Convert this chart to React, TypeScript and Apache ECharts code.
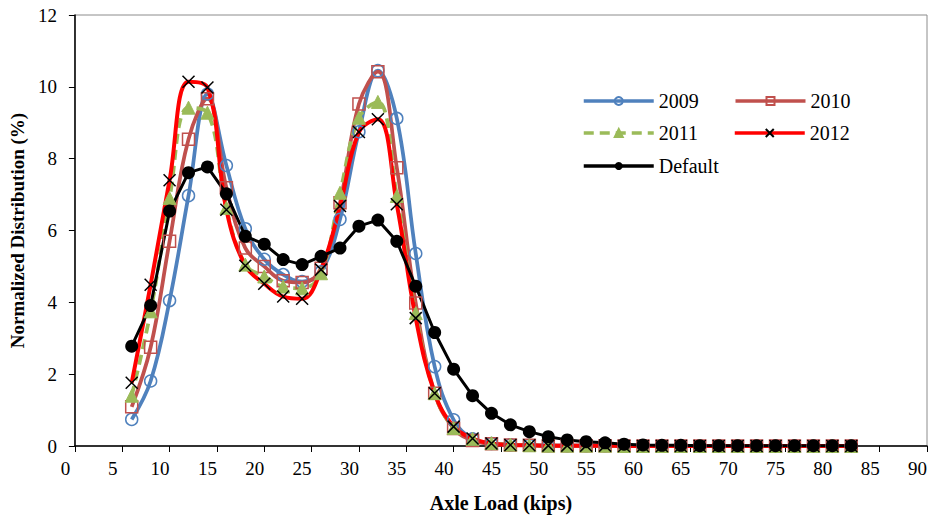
import React, { useEffect, useRef } from "react";
import * as echarts from "echarts";

// Axle load bins (kips)
const loads = [6, 8, 10, 12, 14, 16, 18, 20, 22, 24, 26, 28, 30, 32, 34, 36, 38, 40, 42, 44, 46, 48, 50, 52, 54, 56, 58, 60, 62, 64, 66, 68, 70, 72, 74, 76, 78, 80, 82];

// Normalized distribution (%) per year
const y2009 = [0.74, 1.81, 4.05, 6.97, 9.8, 7.81, 6.05, 5.2, 4.77, 4.58, 4.85, 6.31, 8.75, 10.45, 9.12, 5.36, 2.21, 0.73, 0.2, 0.07, 0.03, 0.02, 0.01, 0.01, 0.01, 0.01, 0, 0, 0, 0, 0, 0, 0, 0, 0, 0, 0, 0, 0];
const y2010 = [1.09, 2.75, 5.7, 8.54, 9.67, 7.19, 5.51, 5.0, 4.6, 4.55, 4.95, 6.77, 9.52, 10.42, 7.75, 3.98, 1.47, 0.49, 0.15, 0.06, 0.03, 0.02, 0.01, 0.01, 0.01, 0.01, 0, 0, 0, 0, 0, 0, 0, 0, 0, 0, 0, 0, 0];
const y2011 = [1.4, 3.75, 6.9, 9.42, 9.28, 6.63, 5.05, 4.72, 4.44, 4.39, 4.81, 7.05, 9.14, 9.58, 6.96, 3.7, 1.47, 0.5, 0.2, 0.08, 0.04, 0.02, 0.01, 0.01, 0.01, 0.01, 0, 0, 0, 0, 0, 0, 0, 0, 0, 0, 0, 0, 0];
const y2012 = [1.76, 4.49, 7.4, 10.14, 9.98, 6.58, 5.02, 4.52, 4.16, 4.1, 4.91, 6.68, 8.74, 9.1, 6.73, 3.56, 1.47, 0.54, 0.21, 0.07, 0.03, 0.02, 0.01, 0.01, 0.01, 0.01, 0, 0, 0, 0, 0, 0, 0, 0, 0, 0, 0, 0, 0];
const yDefault = [2.78, 3.91, 6.54, 7.61, 7.77, 7.02, 5.84, 5.62, 5.19, 5.05, 5.28, 5.51, 6.12, 6.29, 5.7, 4.45, 3.16, 2.14, 1.4, 0.91, 0.59, 0.4, 0.26, 0.17, 0.12, 0.09, 0.05, 0.03, 0.02, 0.02, 0.01, 0.01, 0.01, 0.01, 0.01, 0.01, 0.01, 0.01, 0.01];

const xTicks = { min: 0, max: 90, interval: 5 };
const yTicks = { min: 0, max: 12, interval: 2 };

const FONT = "'Liberation Serif', 'Times New Roman', serif";

const pairs = (ys: number[]) => loads.map((x, i) => [x, ys[i]]);

export default function App() {
  const ref = useRef<HTMLDivElement>(null);

  useEffect(() => {
    document.body.style.margin = "0";
    if (!ref.current) return;
    const chart = echarts.init(ref.current, null, { renderer: "svg" });

    const legendText = { fontFamily: FONT, fontSize: 20, color: "#000" };
    const legendBase = {
      left: 577,
      itemWidth: 70,
      itemHeight: 10,
      itemGap: 35,
      textStyle: legendText,
      lineStyle: { width: 3.5 },
    };

    chart.setOption({
      animation: false,
      backgroundColor: "#fff",
      grid: {
        left: 74,
        right: 6,
        top: 15,
        bottom: 73,
        show: true,
        borderColor: "#8c8c8c",
        borderWidth: 1,
      },
      legend: [
        { ...legendBase, data: ["2009", "2010"], top: 86 },
        { ...legendBase, data: ["2011", "2012"], top: 118 },
        { ...legendBase, data: ["Default"], top: 151 },
      ],
      xAxis: {
        type: "value",
        ...xTicks,
        name: "Axle Load (kips)",
        nameLocation: "middle",
        nameGap: 47,
        nameTextStyle: { fontFamily: FONT, fontSize: 20, fontWeight: "bold", color: "#000" },
        axisLine: { show: true, lineStyle: { color: "#000", width: 1.5 } },
        axisTick: { show: true, inside: false, length: 6, lineStyle: { color: "#000", width: 1 } },
        axisLabel: { fontFamily: FONT, fontSize: 19, color: "#000", margin: 13, padding: [0, 19, 0, 0] },
        splitLine: { show: false },
      },
      yAxis: {
        type: "value",
        ...yTicks,
        name: "Normalized Distribution (%)",
        nameLocation: "middle",
        nameRotate: 90,
        nameGap: 44,
        nameTextStyle: { fontFamily: FONT, fontSize: 19, fontWeight: "bold", color: "#000" },
        axisLine: { show: true, lineStyle: { color: "#000", width: 1.5 } },
        axisTick: { show: true, inside: false, length: 6, lineStyle: { color: "#000", width: 1 } },
        axisLabel: { fontFamily: FONT, fontSize: 19, color: "#000", margin: 18 },
        splitLine: { show: false },
      },
      series: [
        {
          name: "2009",
          type: "line",
          data: pairs(y2009),
          smooth: 0.4,
          symbol: "circle",
          symbolSize: 12,
          lineStyle: { color: "#4F81BD", width: 3.75 },
          itemStyle: { color: "rgba(255,255,255,0)", borderColor: "#4F81BD", borderWidth: 1.5 },
        },
        {
          name: "2010",
          type: "line",
          data: pairs(y2010),
          smooth: 0.4,
          symbol: "rect",
          symbolSize: 12,
          lineStyle: { color: "#C0504D", width: 3.75 },
          itemStyle: { color: "rgba(255,255,255,0)", borderColor: "#C0504D", borderWidth: 1.5 },
        },
        {
          name: "2011",
          type: "line",
          data: pairs(y2011),
          smooth: 0.4,
          symbol: "triangle",
          symbolSize: 13,
          lineStyle: { color: "#9BBB59", width: 3.75, type: [10, 6] },
          itemStyle: { color: "#9BBB59", borderColor: "#9BBB59", borderWidth: 1 },
        },
        {
          name: "2012",
          type: "line",
          data: pairs(y2012),
          smooth: 0.4,
          symbol: "path://M0,0L10,10M10,0L0,10",
          symbolSize: 12,
          lineStyle: { color: "#FF0000", width: 4 },
          itemStyle: { color: "#000", borderColor: "#000", borderWidth: 1.5 },
        },
        {
          name: "Default",
          type: "line",
          data: pairs(yDefault),
          smooth: false,
          symbol: "circle",
          symbolSize: 13,
          lineStyle: { color: "#000", width: 3 },
          itemStyle: { color: "#000", borderColor: "#000", borderWidth: 0 },
        },
      ],
    });

    return () => chart.dispose();
  }, []);

  return <div ref={ref} style={{ width: 933, height: 519 }} />;
}
